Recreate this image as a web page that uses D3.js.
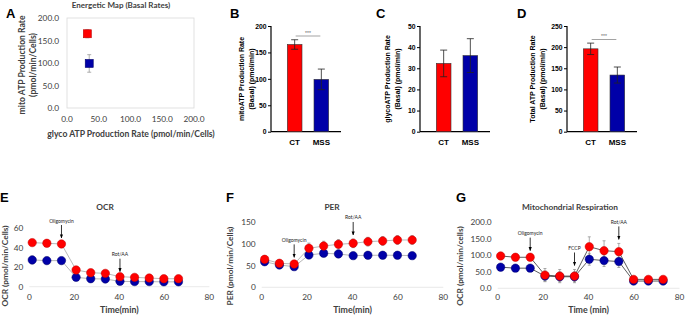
<!doctype html>
<html lang="en">
<head>
<meta charset="utf-8">
<title>ATP production and Seahorse traces</title>
<script src="https://d3js.org/d3.v7.min.js"></script>
<style>
  body { margin: 0; background: #fff; }
  svg { display: block; }
  .xl { font-family: Lato, "Open Sans", sans-serif; }
  .pz { font-family: "Liberation Sans", Arial, sans-serif; }
</style>
</head>
<body>
<div id="chart"></div>
<script>
// ---- data ----
var groups = ["CT", "MSS"];
var groupColors = ["#ff0000", "#0000a8"];

// energetic map (A)
var mapGlyco = [32, 35];
var mapGlycoErr = [3, 5];
var mapMito = [165, 99];
var mapMitoErr = [9, 19.5];

// bar panels (B, C, D)
var mitoATP = [165, 99];
var mitoATPErr = [9, 19.5];
var glycoATP = [32.3, 36];
var glycoATPErr = [6.3, 8];
var totalATP = [196, 134];
var totalATPErr = [13.5, 19];

// time courses (E, F, G)
var timeShort = [1.3, 7.8, 14.3, 20.8, 27.3, 33.8, 40.3, 46.8, 53.3, 59.8, 66.3];
var timeLong = [1.3, 7.8, 14.3, 20.8, 27.3, 33.8, 40.3, 46.8, 53.3, 59.8, 66.3, 72.8];

var ocrCT = [45.3, 44.6, 43.9, 17.2, 14.4, 13.7, 10.3, 9.6, 8.9, 8.2, 8.2];
var ocrCTErr = [2, 2, 2, 1.5, 1.5, 1.5, 1, 1, 1, 1, 1];
var ocrMSS = [27.5, 26.8, 26.8, 9.6, 8.2, 7.9, 5.5, 5.2, 5.2, 5, 5];
var ocrMSSErr = [4, 3.5, 3.5, 2, 1.5, 1.5, 1, 1, 1, 1, 1];

var perCT = [64.6, 55.4, 53.8, 90, 95.3, 99.2, 101.5, 105.4, 107, 109.2, 109.2];
var perCTErr = [8, 6, 6, 12, 11, 11, 10, 10, 10, 10, 10];
var perMSS = [59, 51.5, 47.6, 74.6, 78.5, 77, 73, 73.9, 73.9, 73.9, 73];
var perMSSErr = [6, 5, 5, 6, 6, 6, 6, 6, 6, 6, 6];

var mitoCT = [98, 94, 94, 40, 37, 37, 126, 114, 111, 27, 27, 27];
var mitoCTErr = [10, 8, 8, 20, 20, 20, 30, 30, 25, 8, 8, 8];
var mitoMSS = [64, 61, 61, 37, 35, 35, 88, 84, 81, 22, 22, 22];
var mitoMSSErr = [6, 6, 6, 15, 15, 15, 18, 18, 18, 6, 6, 6];

var injectionsE = [{label: "Oligomycin", time: 14.3}, {label: "Rot/AA", time: 40.3}];
var injectionsF = [{label: "Oligomycin", time: 14.3}, {label: "Rot/AA", time: 40.3}];
var injectionsG = [{label: "Oligomycin", time: 14.3}, {label: "FCCP", time: 33.8}, {label: "Rot/AA", time: 53.3}];

// ---- drawing ----
var svg = d3.select("#chart").append("svg")
    .attr("width", 685).attr("height", 316);

svg.append("defs").append("marker")
    .attr("id", "arr").attr("viewBox", "0 0 10 10")
    .attr("refX", 9).attr("refY", 5)
    .attr("markerWidth", 5).attr("markerHeight", 5)
    .attr("orient", "auto")
  .append("path").attr("d", "M0,1L10,5L0,9Z").attr("fill", "#000");

function letter(txt, x, y) {
  svg.append("text").attr("class", "pz")
    .attr("x", x).attr("y", y)
    .attr("font-size", 13).attr("font-weight", "bold")
    .text(txt);
}

// ---- A: energetic map ----
(function() {
  var x = d3.scaleLinear().domain([0, 200]).range([67, 194]);
  var y = d3.scaleLinear().domain([0, 200]).range([108, 18]);
  var g = svg.append("g").attr("class", "xl");

  g.append("rect").attr("x", 67).attr("y", 18).attr("width", 127).attr("height", 90)
    .attr("fill", "none").attr("stroke", "#d9d9d9").attr("stroke-width", 0.8);

  var ticks = [0, 50, 100, 150, 200];
  g.selectAll(".yt").data(ticks).join("text")
    .attr("x", 59).attr("y", d => y(d) + 3)
    .attr("text-anchor", "end").attr("font-size", 8.3).attr("fill", "#404040")
    .text(d3.format(".1f"));
  g.selectAll(".xt").data(ticks).join("text")
    .attr("x", d => x(d)).attr("y", 122)
    .attr("text-anchor", "middle").attr("font-size", 8.3).attr("fill", "#404040")
    .text(d3.format(".1f"));

  g.append("text").attr("x", 121).attr("y", 8).attr("text-anchor", "middle")
    .attr("font-size", 8).attr("font-weight", "bold").attr("fill", "#404040")
    .text("Energetic Map (Basal Rates)");
  g.append("text").attr("x", 131).attr("y", 137).attr("text-anchor", "middle")
    .attr("font-size", 8.6).attr("font-weight", "bold").attr("fill", "#404040")
    .text("glyco ATP Production Rate (pmol/min/Cells)");
  g.append("text").attr("transform", "translate(25,65) rotate(-90)")
    .attr("text-anchor", "middle").attr("font-size", 8.6).attr("font-weight", "bold").attr("fill", "#404040")
    .text("mito ATP Production Rate");
  g.append("text").attr("transform", "translate(36,65) rotate(-90)")
    .attr("text-anchor", "middle").attr("font-size", 8.6).attr("font-weight", "bold").attr("fill", "#404040")
    .text("(pmol/min/Cells)");

  groups.forEach(function(k, i) {
    var cx = x(mapGlyco[i]), cy = y(mapMito[i]);
    var eg = g.append("g").attr("stroke", "#9a9a9a").attr("stroke-width", 0.8);
    eg.append("line").attr("x1", cx).attr("x2", cx)
      .attr("y1", y(mapMito[i] - mapMitoErr[i])).attr("y2", y(mapMito[i] + mapMitoErr[i]));
    eg.append("line").attr("y1", cy).attr("y2", cy)
      .attr("x1", x(mapGlyco[i] - mapGlycoErr[i])).attr("x2", x(mapGlyco[i] + mapGlycoErr[i]));
    [mapMito[i] - mapMitoErr[i], mapMito[i] + mapMitoErr[i]].forEach(function(v) {
      eg.append("line").attr("x1", cx - 2).attr("x2", cx + 2).attr("y1", y(v)).attr("y2", y(v));
    });
    g.append("rect").attr("x", cx - 4).attr("y", cy - 4).attr("width", 8).attr("height", 8)
      .attr("fill", groupColors[i]).attr("stroke", i ? "#00006a" : "#c00000").attr("stroke-width", 0.6);
  });
  letter("A", 6, 18);
})();

// ---- B, C, D: bar panels ----
function barPanel(opt) {
  var g = svg.append("g").attr("class", "pz");
  var y = d3.scaleLinear().domain([0, opt.max]).range([131.7, 26]);
  var x = d3.scaleBand().domain(groups)
      .range([opt.ax + 11, opt.ax + 63]).paddingInner(0.45).paddingOuter(0.2);

  g.append("g").attr("transform", "translate(" + opt.ax + ",0)")
    .call(d3.axisLeft(y).tickValues(d3.range(0, opt.max + 1, opt.step)).tickSize(3).tickPadding(1.5))
    .call(a => a.select(".domain").attr("stroke-width", 1.2).attr("d", "M0,26V131.7"))
    .call(a => a.selectAll("text").attr("font-size", 6.8).attr("font-weight", "bold")
      .attr("font-family", "Liberation Sans, Arial, sans-serif"))
    .call(a => a.selectAll("line").attr("stroke-width", 1));

  g.append("line").attr("x1", opt.ax).attr("x2", opt.ax + 70)
    .attr("y1", 131.7).attr("y2", 131.7).attr("stroke", "#000").attr("stroke-width", 1.2);

  g.selectAll(".bar").data(groups).join("rect")
    .attr("x", d => x(d)).attr("width", x.bandwidth())
    .attr("y", (d, i) => y(opt.values[i])).attr("height", (d, i) => 131.7 - y(opt.values[i]))
    .attr("fill", (d, i) => groupColors[i]).attr("stroke", "#333").attr("stroke-width", 0.6);

  groups.forEach(function(k, i) {
    var cx = x(k) + x.bandwidth() / 2;
    var lo = y(opt.values[i] - opt.errs[i]), hi = y(opt.values[i] + opt.errs[i]);
    var eg = g.append("g").attr("stroke", "#222").attr("stroke-width", 0.8);
    eg.append("line").attr("x1", cx).attr("x2", cx).attr("y1", lo).attr("y2", hi);
    eg.append("line").attr("x1", cx - 3.5).attr("x2", cx + 3.5).attr("y1", lo).attr("y2", lo);
    eg.append("line").attr("x1", cx - 3.5).attr("x2", cx + 3.5).attr("y1", hi).attr("y2", hi);
    g.append("text").attr("x", cx).attr("y", 145).attr("text-anchor", "middle")
      .attr("font-size", 8).attr("font-weight", "bold").text(k);
  });

  if (opt.sig) {
    var x1 = x(groups[0]) + x.bandwidth() / 2 + 1, x2 = x(groups[1]) + x.bandwidth() / 2 - 1;
    g.append("line").attr("x1", x1).attr("x2", x2).attr("y1", opt.sigY).attr("y2", opt.sigY)
      .attr("stroke", "#999").attr("stroke-width", 0.9);
    g.append("text").attr("x", (x1 + x2) / 2).attr("y", opt.sigY - 1.2).attr("text-anchor", "middle")
      .attr("font-size", 5).attr("fill", "#666").text("***");
  }

  g.append("text").attr("transform", "translate(" + (opt.ax + opt.t1) + ",79) rotate(-90)")
    .attr("text-anchor", "middle").attr("font-size", 7).attr("font-weight", "bold")
    .text(opt.title);
  g.append("text").attr("transform", "translate(" + (opt.ax + opt.t1 + 10) + ",79) rotate(-90)")
    .attr("text-anchor", "middle").attr("font-size", 7).attr("font-weight", "bold")
    .text("(Basal) (pmol/min)");
  letter(opt.letter, opt.lx, 18);
}

barPanel({letter: "B", lx: 230, ax: 271, max: 200, step: 50, values: mitoATP, errs: mitoATPErr,
  sig: true, sigY: 36, t1: -27, title: "mitoATP Production Rate"});
barPanel({letter: "C", lx: 376, ax: 420, max: 50, step: 10, values: glycoATP, errs: glycoATPErr,
  sig: false, t1: -30, title: "glycoATP Production Rate"});
barPanel({letter: "D", lx: 517, ax: 567, max: 250, step: 50, values: totalATP, errs: totalATPErr,
  sig: true, sigY: 39.5, t1: -32, title: "Total ATP Production Rate"});

// ---- E, F, G: time courses ----
function linePanel(opt) {
  var g = svg.append("g").attr("class", "xl");
  var x = d3.scaleLinear().domain([0, 80]).range(opt.xr);
  var y = d3.scaleLinear().domain([0, opt.max]).range(opt.yr);

  g.append("line").attr("x1", opt.xr[0]).attr("x2", opt.xr[1])
    .attr("y1", opt.yr[0]).attr("y2", opt.yr[0]).attr("stroke", "#e3e3e3").attr("stroke-width", 0.8);

  g.selectAll(".yt").data(d3.range(0, opt.max + 1, opt.step)).join("text")
    .attr("x", opt.xr[0] - 6).attr("y", d => y(d) + 3)
    .attr("text-anchor", "end").attr("font-size", 8.3).attr("fill", "#404040")
    .text(opt.fmt);
  g.selectAll(".xt").data([0, 20, 40, 60, 80]).join("text")
    .attr("x", d => x(d)).attr("y", 300)
    .attr("text-anchor", "middle").attr("font-size", 8.3).attr("fill", "#404040")
    .text(d => d);

  g.append("text").attr("x", (opt.xr[0] + opt.xr[1]) / 2).attr("y", 312.5).attr("text-anchor", "middle")
    .attr("font-size", 8.8).attr("font-weight", "bold").attr("fill", "#404040").text(opt.xtitle);
  g.append("text").attr("x", opt.titleX).attr("y", 210).attr("text-anchor", "middle")
    .attr("font-size", 8.3).attr("font-weight", "bold").attr("fill", "#404040").text(opt.title);
  g.append("text").attr("transform", "translate(" + opt.ytx + ",266) rotate(-90)")
    .attr("text-anchor", "middle").attr("font-size", 8.3).attr("font-weight", "bold").attr("fill", "#404040")
    .text(opt.ytitle);

  var line = d3.line().x(d => x(d[0])).y(d => y(d[1]));
  opt.series.forEach(function(s, i) {
    var pts = opt.time.map((t, j) => [t, s.v[j], s.e[j]]);
    g.append("path").attr("d", line(pts)).attr("fill", "none")
      .attr("stroke", opt.lineColor).attr("stroke-width", 0.8);
    var eg = g.append("g").attr("stroke", "#8a8a8a").attr("stroke-width", 0.7);
    pts.forEach(function(p) {
      var cx = x(p[0]), lo = y(p[1] - p[2]), hi = y(p[1] + p[2]);
      eg.append("line").attr("x1", cx).attr("x2", cx).attr("y1", lo).attr("y2", hi);
      eg.append("line").attr("x1", cx - 1.5).attr("x2", cx + 1.5).attr("y1", lo).attr("y2", lo);
      eg.append("line").attr("x1", cx - 1.5).attr("x2", cx + 1.5).attr("y1", hi).attr("y2", hi);
    });
  });
  // markers drawn after all lines, MSS below CT
  opt.series.slice().reverse().forEach(function(s, ri) {
    var i = opt.series.length - 1 - ri;
    g.selectAll(null).data(opt.time).join("circle")
      .attr("cx", d => x(d)).attr("cy", (d, j) => y(s.v[j])).attr("r", 4.2)
      .attr("fill", groupColors[i]).attr("stroke", i ? "#00006a" : "#c00000").attr("stroke-width", 0.5);
  });

  opt.inj.forEach(function(a) {
    var j = opt.time.indexOf(a.time);
    var top = d3.min(opt.series, s => y(s.v[j] + s.e[j]));
    var tip = top - 4, start = tip - 13;
    g.append("line").attr("x1", x(a.time)).attr("x2", x(a.time)).attr("y1", start).attr("y2", tip)
      .attr("stroke", "#000").attr("stroke-width", 0.8).attr("marker-end", "url(#arr)");
    g.append("text").attr("x", x(a.time)).attr("y", start - 2.5).attr("text-anchor", "middle")
      .attr("font-size", 5).attr("fill", "#222").text(a.label);
  });
  letter(opt.letter, opt.lx, 202);
}

linePanel({letter: "E", lx: 0, xr: [29.3, 209.3], yr: [286.7, 228.3], max: 60, step: 20,
  fmt: d => d, time: timeShort, lineColor: "#a6a6a6",
  series: [{v: ocrCT, e: ocrCTErr}, {v: ocrMSS, e: ocrMSSErr}], inj: injectionsE,
  title: "OCR", titleX: 105, ytitle: "OCR (pmol/min/Cells)", ytx: 8, xtitle: "Time(min)"});
linePanel({letter: "F", lx: 226, xr: [261.7, 443.3], yr: [287.3, 222.3], max: 150, step: 50,
  fmt: d => d, time: timeShort, lineColor: "#a6a6a6",
  series: [{v: perCT, e: perCTErr}, {v: perMSS, e: perMSSErr}], inj: injectionsF,
  title: "PER", titleX: 332, ytitle: "PER (pmol/min/Cells)", ytx: 233, xtitle: "Time(min)"});
linePanel({letter: "G", lx: 456, xr: [497.7, 679.5], yr: [288.3, 222.3], max: 200, step: 50,
  fmt: d3.format(".1f"), time: timeLong, lineColor: "#333",
  series: [{v: mitoCT, e: mitoCTErr}, {v: mitoMSS, e: mitoMSSErr}], inj: injectionsG,
  title: "Mitochondrial Respiration", titleX: 570, ytitle: "OCR (pmol/min/cells)", ytx: 463, xtitle: "Time (min)"});
</script>
</body>
</html>
